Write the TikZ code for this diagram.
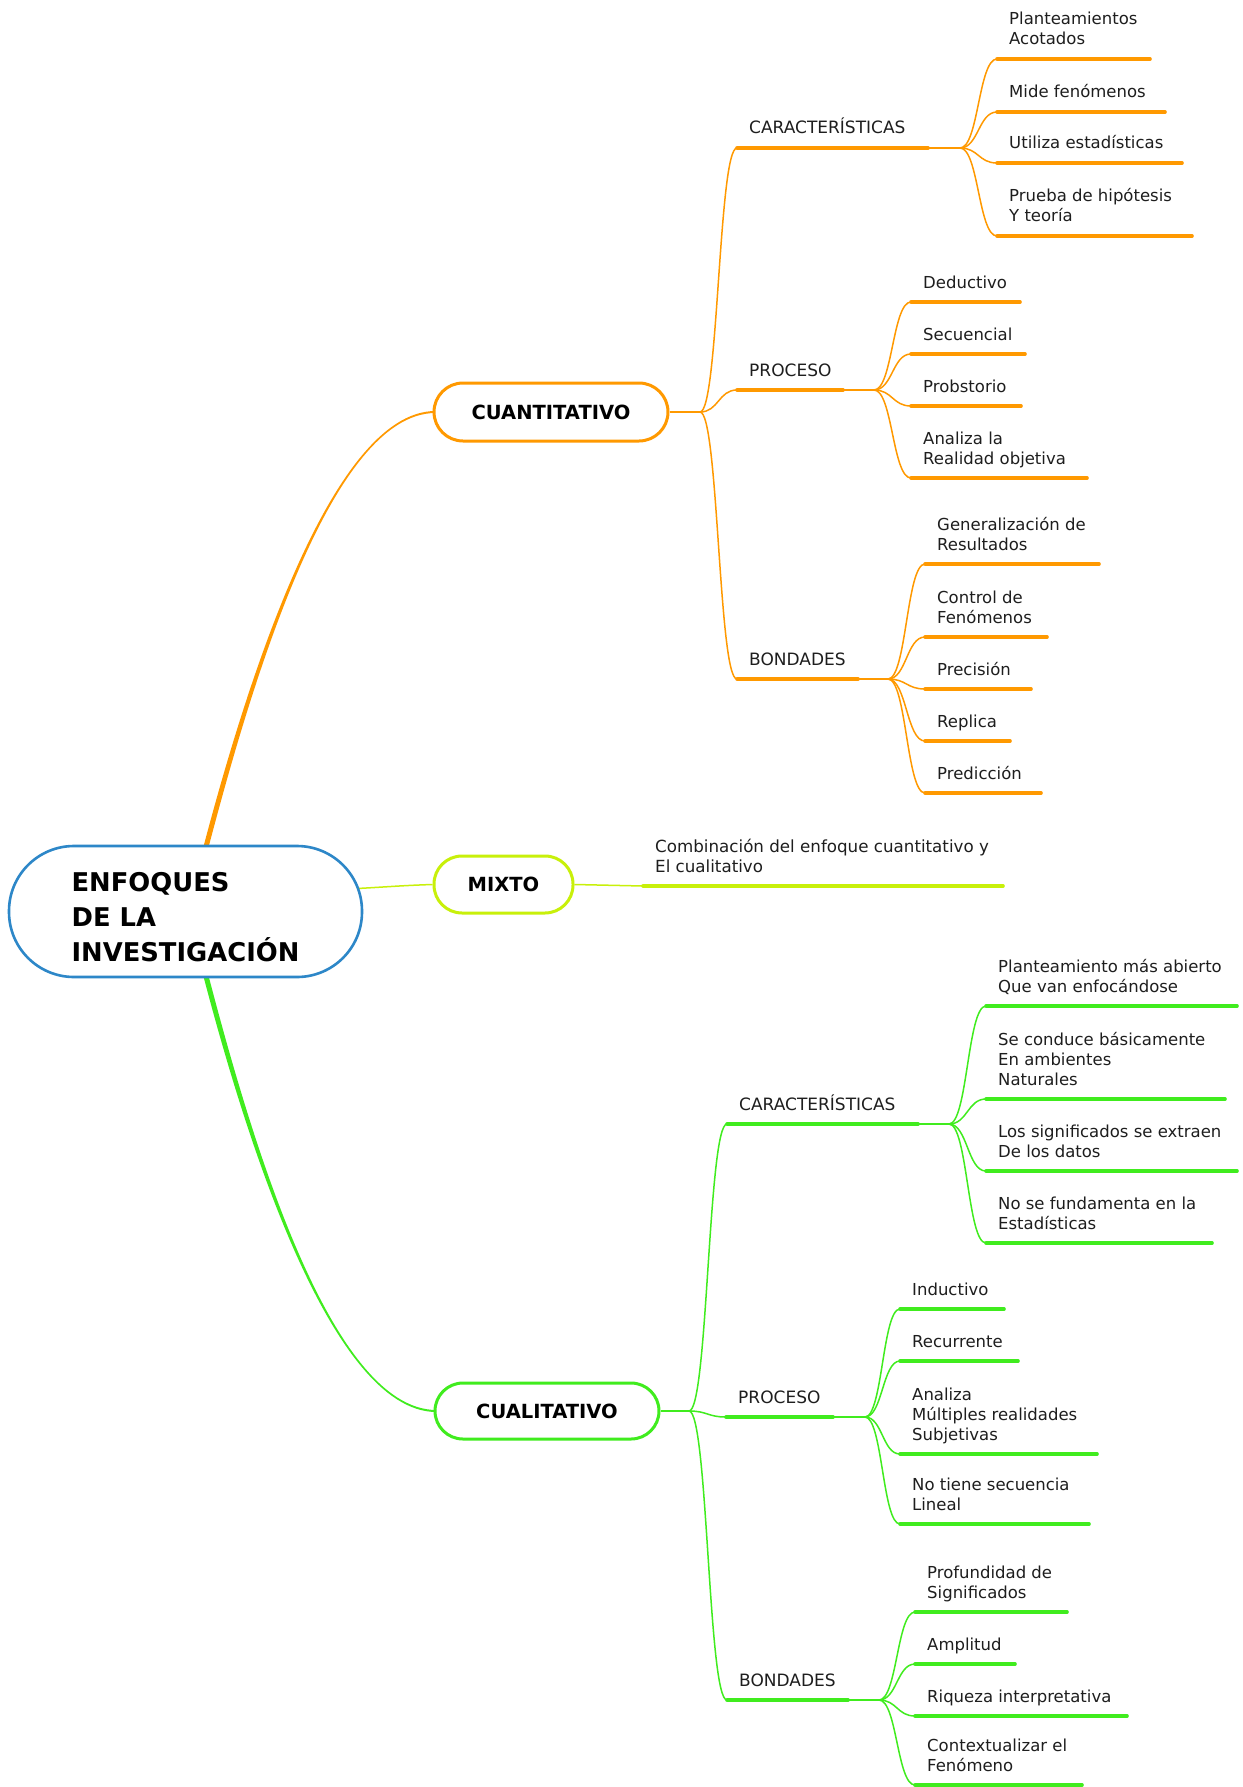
\documentclass[tikz,border=0pt]{standalone}
\usepackage{fontspec}
\setmainfont{DejaVu Sans}
\usetikzlibrary{calc}
\definecolor{qorange}{RGB}{255,153,0}
\definecolor{qgreen}{RGB}{64,236,30}
\definecolor{qmix}{RGB}{200,240,10}
\definecolor{qblue}{RGB}{45,135,200}
\definecolor{qtext}{RGB}{30,30,30}
\pgfdeclarelayer{bg}
\pgfdeclarelayer{lines}
\pgfsetlayers{bg,lines,main}
\newcommand\mlines[1]{\begin{tabular}[b]{@{}l@{}}#1\end{tabular}}
\newcommand\itemfont{\fontsize{16.5}{20}\selectfont}
\newcommand\catfont{\fontsize{17}{20}\selectfont}
\newcommand\sconn[3]{%
  \coordinate (tmpm) at ($(#2)!0.5!(#3)$);
  \draw[conn,#1] (#2) .. controls (tmpm |- #2) and (tmpm |- #3) .. (#3);}
\newcommand\mmitem[6]{%
  \coordinate (#1s) at (#3,#5);
  \coordinate (#1e) at (#4,#5);
  \draw[uline,#2] (#1s) -- (#1e);
  \node[txt] (#1) at ($(#1s)+(12,-14)$) {\mlines{#6}};}
\newcommand\mmcat[7]{%
  \coordinate (#1s) at (#3,#5);
  \coordinate (#1e) at (#4,#5);
  \coordinate (#1j) at (#6,#5);
  \draw[uline,#2] (#1s) -- (#1e);
  \draw[conn,#2] (#1e) -- (#1j);
  \node[txt, font=\catfont] (#1) at ($(#1s)+(12,-14)$) {#7};}
\begin{document}
\begin{tikzpicture}[x=1pt,y=-1pt,
  txt/.style={font=\itemfont, text=qtext, inner sep=0pt, anchor=base west},
  uline/.style={line width=3.6pt, line cap=round},
  conn/.style={line width=1.5pt},
  topic/.style={draw, line width=3pt, fill=white, font=\fontsize{19.5}{24}\selectfont\bfseries, text=black, inner sep=0pt}]
\begin{pgfonlayer}{bg}
  \fill[white] (0,0) rectangle (1242,1787);
\end{pgfonlayer}
\useasboundingbox (0,0) rectangle (1242,1787);

% central and main topics
\node[draw=qblue, line width=2.6pt, rounded corners=65pt, minimum width=353pt, minimum height=131pt,
      fill=white, inner sep=0pt, align=left, text=black,
      font=\fontsize{25.8}{35}\selectfont\bfseries] (root) at (185.5,911.5) {\rule{0pt}{31pt}ENFOQUES\\DE LA\\INVESTIGACIÓN};
\node[topic, draw=qorange, rounded corners=29pt, minimum width=234pt, minimum height=58pt] (cuant) at (551,412) {CUANTITATIVO};
\node[topic, draw=qmix, rounded corners=28pt, minimum width=139pt, minimum height=57pt] (mixto) at (503.5,884.5) {MIXTO};
\node[topic, draw=qgreen, rounded corners=28pt, minimum width=224pt, minimum height=56pt] (cual) at (547,1411) {CUALITATIVO};

\begin{pgfonlayer}{lines}
  \coordinate (rt) at ($(root.north)+(19.5,0)$);
  \coordinate (rb) at ($(root.south)+(19.5,0)$);
  \fill[qorange] ($(rt)+(-2.6,6)$) .. controls ($(rt)+(37.4,-146)$) and ($(cuant.west)+(-104,-1)$) .. ($(cuant.west)+(3,-1)$)
     -- ($(cuant.west)+(3,1)$) .. controls ($(cuant.west)+(-104,1)$) and ($(rt)+(42.6,-146)$) .. ($(rt)+(2.6,6)$) -- cycle;
  \fill[qgreen] ($(rb)+(-2.6,-6)$) .. controls ($(rb)+(37.4,147)$) and ($(cual.west)+(-105,1)$) .. ($(cual.west)+(3,1)$)
     -- ($(cual.west)+(3,-1)$) .. controls ($(cual.west)+(-105,-1)$) and ($(rb)+(42.6,147)$) .. ($(rb)+(2.6,-6)$) -- cycle;
  \draw[conn,qmix] ($(root.east)+(-6,-23)$) .. controls ($(root.east)+(30,-25)$) and ($(mixto.west)+(-30,1)$) .. (mixto.west);
\end{pgfonlayer}

% MIXTO
\coordinate (mxs) at (643,886);
\coordinate (mxe) at (1003,886);
\draw[conn,qmix] (mixto.east) -- (mxs);
\draw[uline,qmix] (mxs) -- (mxe);
\node[txt, font=\fontsize{16.7}{20}\selectfont] (mxt) at ($(mxs)+(12,-14)$) {\mlines{Combinación del enfoque cuantitativo y\\El cualitativo}};

% CUANTITATIVO
\coordinate (jq) at (700,412);
\draw[conn,qorange] (cuant.east) -- (jq);
\mmcat{qa}{qorange}{737}{928}{148}{960}{CARACTERÍSTICAS}
\mmcat{qb}{qorange}{737}{843}{390}{874}{PROCESO}
\mmcat{qc}{qorange}{737}{858}{679}{888}{BONDADES}
\sconn{qorange}{jq}{qas}
\sconn{qorange}{jq}{qbs}
\sconn{qorange}{jq}{qcs}

\mmitem{qa1}{qorange}{997}{1150}{59}{Planteamientos\\Acotados}
\mmitem{qa2}{qorange}{997}{1165}{112}{Mide fenómenos}
\mmitem{qa3}{qorange}{997}{1182}{163}{Utiliza estadísticas}
\mmitem{qa4}{qorange}{997}{1192}{236}{Prueba de hipótesis\\Y teoría}
\sconn{qorange}{qaj}{qa1s}
\sconn{qorange}{qaj}{qa2s}
\sconn{qorange}{qaj}{qa3s}
\sconn{qorange}{qaj}{qa4s}

\mmitem{qb1}{qorange}{911}{1020}{302}{Deductivo}
\mmitem{qb2}{qorange}{911}{1025}{354}{Secuencial}
\mmitem{qb3}{qorange}{911}{1021}{406}{Probstorio}
\mmitem{qb4}{qorange}{911}{1087}{478}{Analiza la\\Realidad objetiva}
\sconn{qorange}{qbj}{qb1s}
\sconn{qorange}{qbj}{qb2s}
\sconn{qorange}{qbj}{qb3s}
\sconn{qorange}{qbj}{qb4s}

\mmitem{qc1}{qorange}{925}{1099}{564}{Generalización de\\Resultados}
\mmitem{qc2}{qorange}{925}{1047}{637}{Control de\\Fenómenos}
\mmitem{qc3}{qorange}{925}{1031}{689}{Precisión}
\mmitem{qc4}{qorange}{925}{1010}{741}{Replica}
\mmitem{qc5}{qorange}{925}{1041}{793}{Predicción}
\sconn{qorange}{qcj}{qc1s}
\sconn{qorange}{qcj}{qc2s}
\sconn{qorange}{qcj}{qc3s}
\sconn{qorange}{qcj}{qc4s}
\sconn{qorange}{qcj}{qc5s}

% CUALITATIVO
\coordinate (jl) at (689,1411);
\draw[conn,qgreen] (cual.east) -- (jl);
\mmcat{la}{qgreen}{727}{918}{1124}{949}{CARACTERÍSTICAS}
\mmcat{lb}{qgreen}{726}{833}{1417}{865}{PROCESO}
\mmcat{lc}{qgreen}{727}{848}{1700}{879}{BONDADES}
\sconn{qgreen}{jl}{las}
\sconn{qgreen}{jl}{lbs}
\sconn{qgreen}{jl}{lcs}

\mmitem{la1}{qgreen}{986}{1237}{1006}{Planteamiento más abierto\\Que van enfocándose}
\mmitem{la2}{qgreen}{986}{1225}{1099}{Se conduce básicamente\\En ambientes\\Naturales}
\mmitem{la3}{qgreen}{986}{1237}{1171}{Los significados se extraen\\De los datos}
\mmitem{la4}{qgreen}{986}{1212}{1243}{No se fundamenta en la\\Estadísticas}
\sconn{qgreen}{laj}{la1s}
\sconn{qgreen}{laj}{la2s}
\sconn{qgreen}{laj}{la3s}
\sconn{qgreen}{laj}{la4s}

\mmitem{lb1}{qgreen}{900}{1004}{1309}{Inductivo}
\mmitem{lb2}{qgreen}{900}{1018}{1361}{Recurrente}
\mmitem{lb3}{qgreen}{900}{1097}{1454}{Analiza\\Múltiples realidades\\Subjetivas}
\mmitem{lb4}{qgreen}{900}{1089}{1524}{No tiene secuencia\\Lineal}
\sconn{qgreen}{lbj}{lb1s}
\sconn{qgreen}{lbj}{lb2s}
\sconn{qgreen}{lbj}{lb3s}
\sconn{qgreen}{lbj}{lb4s}

\mmitem{lc1}{qgreen}{915}{1067}{1612}{Profundidad de\\Significados}
\mmitem{lc2}{qgreen}{915}{1015}{1664}{Amplitud}
\mmitem{lc3}{qgreen}{915}{1127}{1716}{Riqueza interpretativa}
\mmitem{lc4}{qgreen}{915}{1082}{1785}{Contextualizar el\\Fenómeno}
\sconn{qgreen}{lcj}{lc1s}
\sconn{qgreen}{lcj}{lc2s}
\sconn{qgreen}{lcj}{lc3s}
\sconn{qgreen}{lcj}{lc4s}
\end{tikzpicture}
\end{document}
